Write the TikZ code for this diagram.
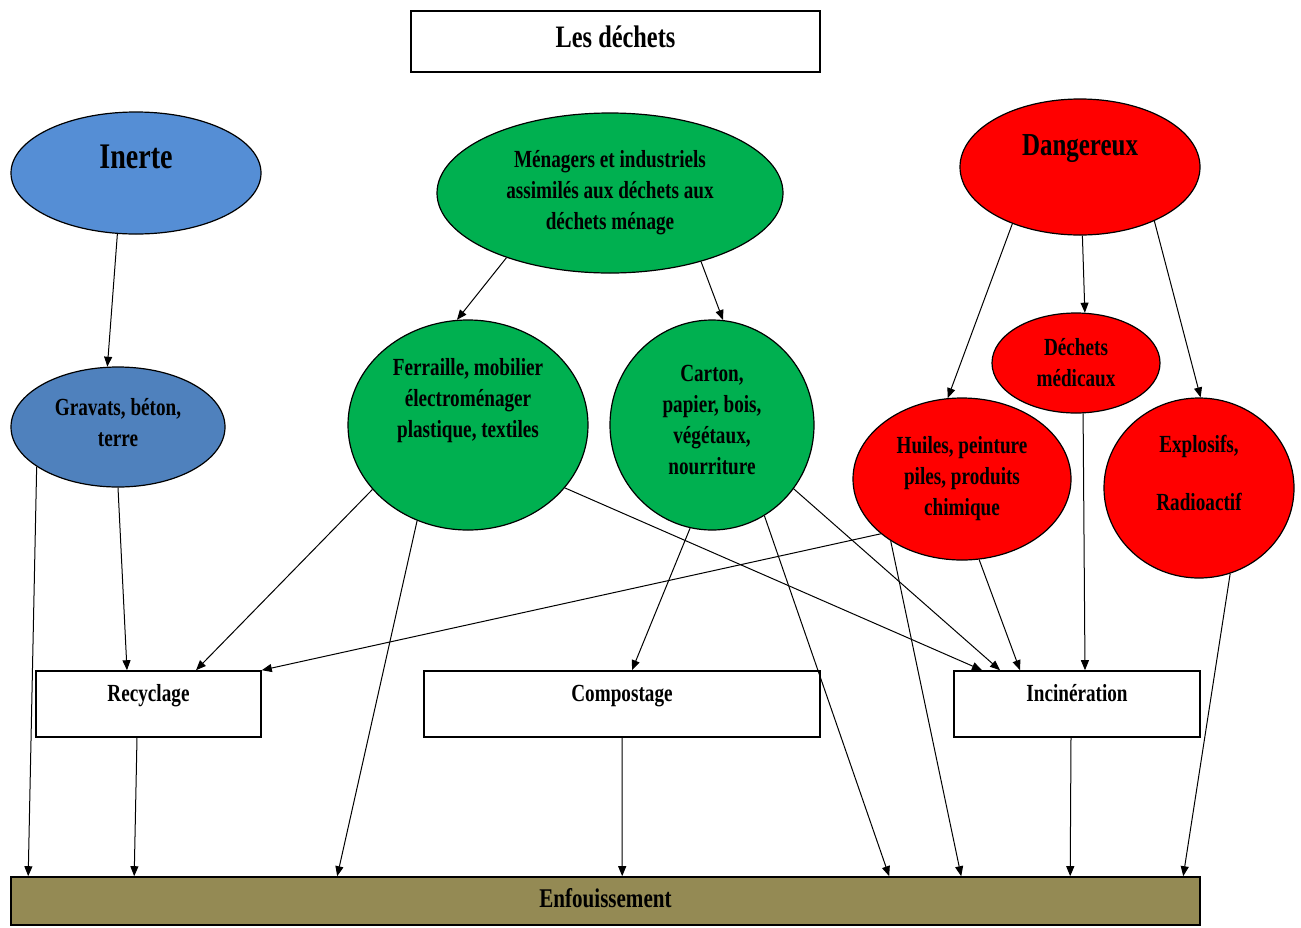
\documentclass[tikz,border=0pt]{standalone}
\usepackage{fontspec}
\setmainfont[FakeStretch=0.78]{Liberation Serif}
\usetikzlibrary{shapes.geometric, arrows.meta}

\definecolor{bleuinerte}{HTML}{558ED5}
\definecolor{bleugravats}{HTML}{4F81BD}
\definecolor{vertmenage}{HTML}{00B050}
\definecolor{olivefond}{HTML}{948A54}

\begin{document}
\begin{tikzpicture}[x=0.5pt,y=-0.5pt,
  bulle/.style={ellipse, draw=black, line width=0.6pt, inner sep=0pt, align=center, font=\fontsize{12.3}{15.5}\selectfont\bfseries},
  boite/.style={rectangle, draw=black, line width=0.8pt, inner sep=0pt, fill=white, font=\fontsize{12.3}{15.5}\selectfont\bfseries},
  fleche/.style={-{Triangle[length=5pt,width=4pt]}, line width=0.5pt}]
\useasboundingbox (0,0) rectangle (1301,927);
\node[boite, minimum width=204.5pt, minimum height=30.5pt, font=\fontsize{15.6}{18}\selectfont\bfseries, text depth=5pt] (titre) at (615.5,41.5) {Les déchets};
\node[bulle, fill=bleuinerte, minimum width=125pt, minimum height=61pt, font=\fontsize{18}{20}\selectfont\bfseries, text depth=16pt] (inerte) at (136,173) {Inerte};
\node[bulle, fill=vertmenage, minimum width=173pt, minimum height=80pt] (men) at (610,193) {Ménagers et industriels\\assimilés aux déchets aux\\déchets ménage};
\node[bulle, fill=red, minimum width=120pt, minimum height=68pt, font=\fontsize{16}{18}\selectfont\bfseries, text depth=22pt] (dang) at (1080,167) {Dangereux};
\node[bulle, fill=bleugravats, minimum width=107pt, minimum height=60pt, text depth=4.5pt] (grav) at (118,427) {Gravats, béton,\\terre};
\node[bulle, fill=vertmenage, minimum width=120pt, minimum height=105pt, text depth=27pt] (ferr) at (468,425) {Ferraille, mobilier\\électroménager\\plastique, textiles};
\node[bulle, fill=vertmenage, minimum width=102pt, minimum height=105pt, text depth=5pt] (cart) at (712,425) {Carton,\\papier, bois,\\végétaux,\\nourriture};
\node[bulle, fill=red, minimum width=84pt, minimum height=50pt] (med) at (1076,363) {Déchets\\médicaux};
\node[bulle, fill=red, minimum width=109pt, minimum height=81pt] (huil) at (962,479) {Huiles, peinture\\piles, produits\\chimique};
\node[bulle, fill=red, minimum width=95pt, minimum height=90pt, text depth=15pt] (expl) at (1199,488) {Explosifs,\\[13.5pt]Radioactif};
\node[boite, minimum width=112.5pt, minimum height=33pt, text depth=11pt] (recy) at (148.5,704) {Recyclage};
\node[boite, minimum width=198pt, minimum height=33pt, text depth=11pt] (comp) at (622,704) {Compostage};
\node[boite, minimum width=123pt, minimum height=33pt, text depth=11pt] (inc) at (1077,704) {Incinération};
\node[boite, fill=olivefond, minimum width=594.5pt, minimum height=24pt, font=\fontsize{13.5}{16}\selectfont\bfseries, text depth=3pt] (enf) at (605.5,901) {Enfouissement};
\draw[fleche] (inerte.253) -- (grav.100);
\draw[fleche] (men.212) -- (ferr.96);
\draw[fleche] (men.323) -- (cart.84);
\draw[fleche] (dang.220) -- (huil.100);
\draw[fleche] (dang.272) -- (med.80);
\draw[fleche] (dang.324) -- (expl.89);
\draw[fleche] (grav.206) -- ([xshift=9pt]enf.north west);
\draw[fleche] (grav.south) -- ([xshift=-10.75pt]recy.north);
\draw[fleche] (ferr.214) -- ([xshift=23.75pt]recy.north);
\draw[fleche] (ferr.242) -- ([xshift=163.5pt]enf.north west);
\draw[fleche] (ferr.327) -- ([xshift=-47.5pt]inc.north);
\draw[fleche] (cart.258) -- ([xshift=5pt]comp.north);
\draw[fleche] (cart.300) -- ([xshift=439.5pt]enf.north west);
\draw[fleche] (cart.322) -- ([xshift=-38.5pt]inc.north);
\draw[fleche] (huil.214) -- (recy.north east);
\draw[fleche] (huil.221) -- ([xshift=475.5pt]enf.north west);
\draw[fleche] (huil.282) -- ([xshift=-28.5pt]inc.north);
\draw[fleche] (med.278) -- ([xshift=4pt]inc.north);
\draw[fleche] (expl.290) -- ([xshift=586.5pt]enf.north west);
\draw[fleche] ([xshift=-5.75pt]recy.south) -- ([xshift=62pt]enf.north west);
\draw[fleche] (comp.south) -- ([xshift=306pt]enf.north west);
\draw[fleche] ([xshift=-3pt]inc.south) -- ([xshift=530pt]enf.north west);
\end{tikzpicture}
\end{document}
